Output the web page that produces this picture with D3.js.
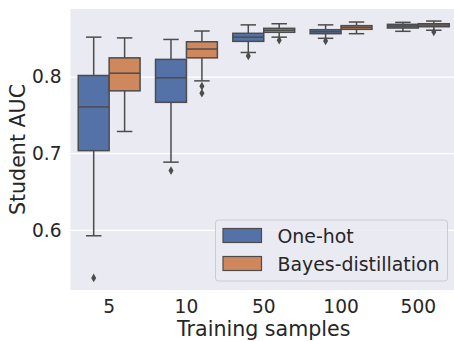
<!DOCTYPE html>
<html>
<head>
<meta charset="utf-8">
<script src="https://cdn.jsdelivr.net/npm/d3@7"></script>
<style>
  body { margin: 0; background: #fff; }
  svg { display: block; font-family: "DejaVu Sans", sans-serif; }
</style>
</head>
<body>
<div class="chart"></div>
<script>
const width = 454;
const height = 341;
const plot = { left: 70.5, right: 457, top: 9, bottom: 290 };

// categories and series
const samples = ["5", "10", "50", "100", "500"];
const seriesNames = ["One-hot", "Bayes-distillation"];
const seriesColors = ["#5572a8", "#cf875e"];
const yTicks = [0.6, 0.7, 0.8];

// box stats per category: [whiskerLow, q1, median, q3, whiskerHigh]
const oneHotBoxes = [
  [0.593, 0.704, 0.761, 0.802, 0.852],
  [0.689, 0.767, 0.799, 0.823, 0.849],
  [0.832, 0.8465, 0.852, 0.857, 0.868],
  [0.8505, 0.8565, 0.859, 0.8617, 0.868],
  [0.8596, 0.8639, 0.8665, 0.8687, 0.8713]
];
const oneHotOutliers = [[0.538], [0.678], [0.8275], [0.847], []];

const bayesBoxes = [
  [0.729, 0.782, 0.805, 0.825, 0.851],
  [0.795, 0.825, 0.8365, 0.846, 0.860],
  [0.852, 0.8583, 0.861, 0.8635, 0.8695],
  [0.8565, 0.8622, 0.8648, 0.867, 0.8717],
  [0.861, 0.8656, 0.8678, 0.8695, 0.873]
];
const bayesOutliers = [[], [0.788, 0.779], [0.848], [], [0.8587]];

const lineGray = "#4c4c4c";

// Builds the box records from the arrays above
function buildBoxes()
{
    const boxes = [];
    const allStats = [oneHotBoxes, bayesBoxes];
    const allOutliers = [oneHotOutliers, bayesOutliers];
    samples.forEach((s, i) => {
        seriesNames.forEach((name, j) => {
            const st = allStats[j][i];
            boxes.push({
                sample: s, series: name, color: seriesColors[j],
                lo: st[0], q1: st[1], med: st[2], q3: st[3], hi: st[4],
                outliers: allOutliers[j][i]
            });
        });
    });
    return boxes;
}

const svg = d3.select(".chart").append("svg")
    .attr("width", width)
    .attr("height", height);

const x = d3.scaleBand()
    .domain(samples)
    .range([plot.left, plot.right]);

// inner scale for the two hue boxes (80% of each band)
const xInner = d3.scaleBand()
    .domain(seriesNames)
    .range([x.bandwidth() * 0.1, x.bandwidth() * 0.9]);

const y = d3.scaleLinear()
    .domain([0.5223, 0.8887])
    .range([plot.bottom, plot.top]);

// background
svg.append("rect")
    .attr("x", plot.left)
    .attr("y", plot.top)
    .attr("width", plot.right - plot.left)
    .attr("height", plot.bottom - plot.top)
    .attr("fill", "#eaeaf2");

// grid lines
svg.append("g")
    .selectAll("line")
    .data(yTicks)
    .join("line")
    .attr("x1", plot.left)
    .attr("x2", plot.right)
    .attr("y1", d => y(d))
    .attr("y2", d => y(d))
    .attr("stroke", "#fff")
    .attr("stroke-width", 1.3);

// y tick labels
const yAxis = svg.append("g")
    .attr("transform", `translate(${plot.left},0)`)
    .call(d3.axisLeft(y).tickValues(yTicks).tickSize(0).tickPadding(9).tickFormat(d3.format(".1f")));
yAxis.select(".domain").remove();
yAxis.selectAll("text")
    .attr("font-size", "18.6px")
    .attr("font-family", "DejaVu Sans")
    .attr("fill", "#262626");

// x tick labels
const xAxis = svg.append("g")
    .attr("transform", `translate(0,${plot.bottom})`)
    .call(d3.axisBottom(x).tickSize(0).tickPadding(9.5));
xAxis.select(".domain").remove();
xAxis.selectAll("text")
    .attr("font-size", "18.6px")
    .attr("font-family", "DejaVu Sans")
    .attr("fill", "#262626");

// axis titles
svg.append("text")
    .attr("x", (plot.left + plot.right) / 2)
    .attr("y", 336)
    .attr("text-anchor", "middle")
    .attr("font-size", "20.6px")
    .attr("fill", "#262626")
    .text("Training samples");

svg.append("text")
    .attr("transform", `translate(25,${(plot.top + plot.bottom) / 2}) rotate(-90)`)
    .attr("text-anchor", "middle")
    .attr("font-size", "20.6px")
    .attr("fill", "#262626")
    .text("Student AUC");

// boxes
const boxes = buildBoxes();
const bw = xInner.bandwidth();

const g = svg.append("g")
    .selectAll("g")
    .data(boxes)
    .join("g")
    .attr("transform", d => `translate(${x(d.sample) + xInner(d.series)},0)`);

// whiskers
g.append("line")
    .attr("x1", bw / 2).attr("x2", bw / 2)
    .attr("y1", d => y(d.q3)).attr("y2", d => y(d.hi))
    .attr("stroke", lineGray).attr("stroke-width", 1.5);
g.append("line")
    .attr("x1", bw / 2).attr("x2", bw / 2)
    .attr("y1", d => y(d.q1)).attr("y2", d => y(d.lo))
    .attr("stroke", lineGray).attr("stroke-width", 1.5);

// caps
g.append("line")
    .attr("x1", bw / 4).attr("x2", bw * 3 / 4)
    .attr("y1", d => y(d.hi)).attr("y2", d => y(d.hi))
    .attr("stroke", lineGray).attr("stroke-width", 1.5);
g.append("line")
    .attr("x1", bw / 4).attr("x2", bw * 3 / 4)
    .attr("y1", d => y(d.lo)).attr("y2", d => y(d.lo))
    .attr("stroke", lineGray).attr("stroke-width", 1.5);

// box body
g.append("rect")
    .attr("x", 0)
    .attr("width", bw)
    .attr("y", d => y(d.q3))
    .attr("height", d => y(d.q1) - y(d.q3))
    .attr("fill", d => d.color)
    .attr("stroke", lineGray)
    .attr("stroke-width", 1.5);

// median
g.append("line")
    .attr("x1", 0).attr("x2", bw)
    .attr("y1", d => y(d.med)).attr("y2", d => y(d.med))
    .attr("stroke", lineGray).attr("stroke-width", 1.5);

// outliers (diamonds)
g.selectAll("path.outlier")
    .data(d => d.outliers)
    .join("path")
    .attr("class", "outlier")
    .attr("transform", v => `translate(${bw / 2},${y(v)})`)
    .attr("d", d3.symbol(d3.symbolDiamond, 22))
    .attr("fill", lineGray);

// legend
const legend = svg.append("g")
    .attr("transform", "translate(215.5,220)");

legend.append("rect")
    .attr("width", 232)
    .attr("height", 61)
    .attr("rx", 3)
    .attr("fill", "#eaeaf2")
    .attr("fill-opacity", 0.8)
    .attr("stroke", "#cccccc")
    .attr("stroke-width", 1);

const item = legend.selectAll("g.item")
    .data(seriesNames)
    .join("g")
    .attr("class", "item")
    .attr("transform", (d, i) => `translate(0,${8.5 + i * 28})`);

item.append("rect")
    .attr("x", 7.5)
    .attr("width", 38.5)
    .attr("height", 14)
    .attr("fill", (d, i) => seriesColors[i])
    .attr("stroke", lineGray)
    .attr("stroke-width", 1.2);

item.append("text")
    .attr("x", 62)
    .attr("y", 14.2)
    .attr("font-size", "18.9px")
    .attr("fill", "#262626")
    .text(d => d);
</script>
</body>
</html>
